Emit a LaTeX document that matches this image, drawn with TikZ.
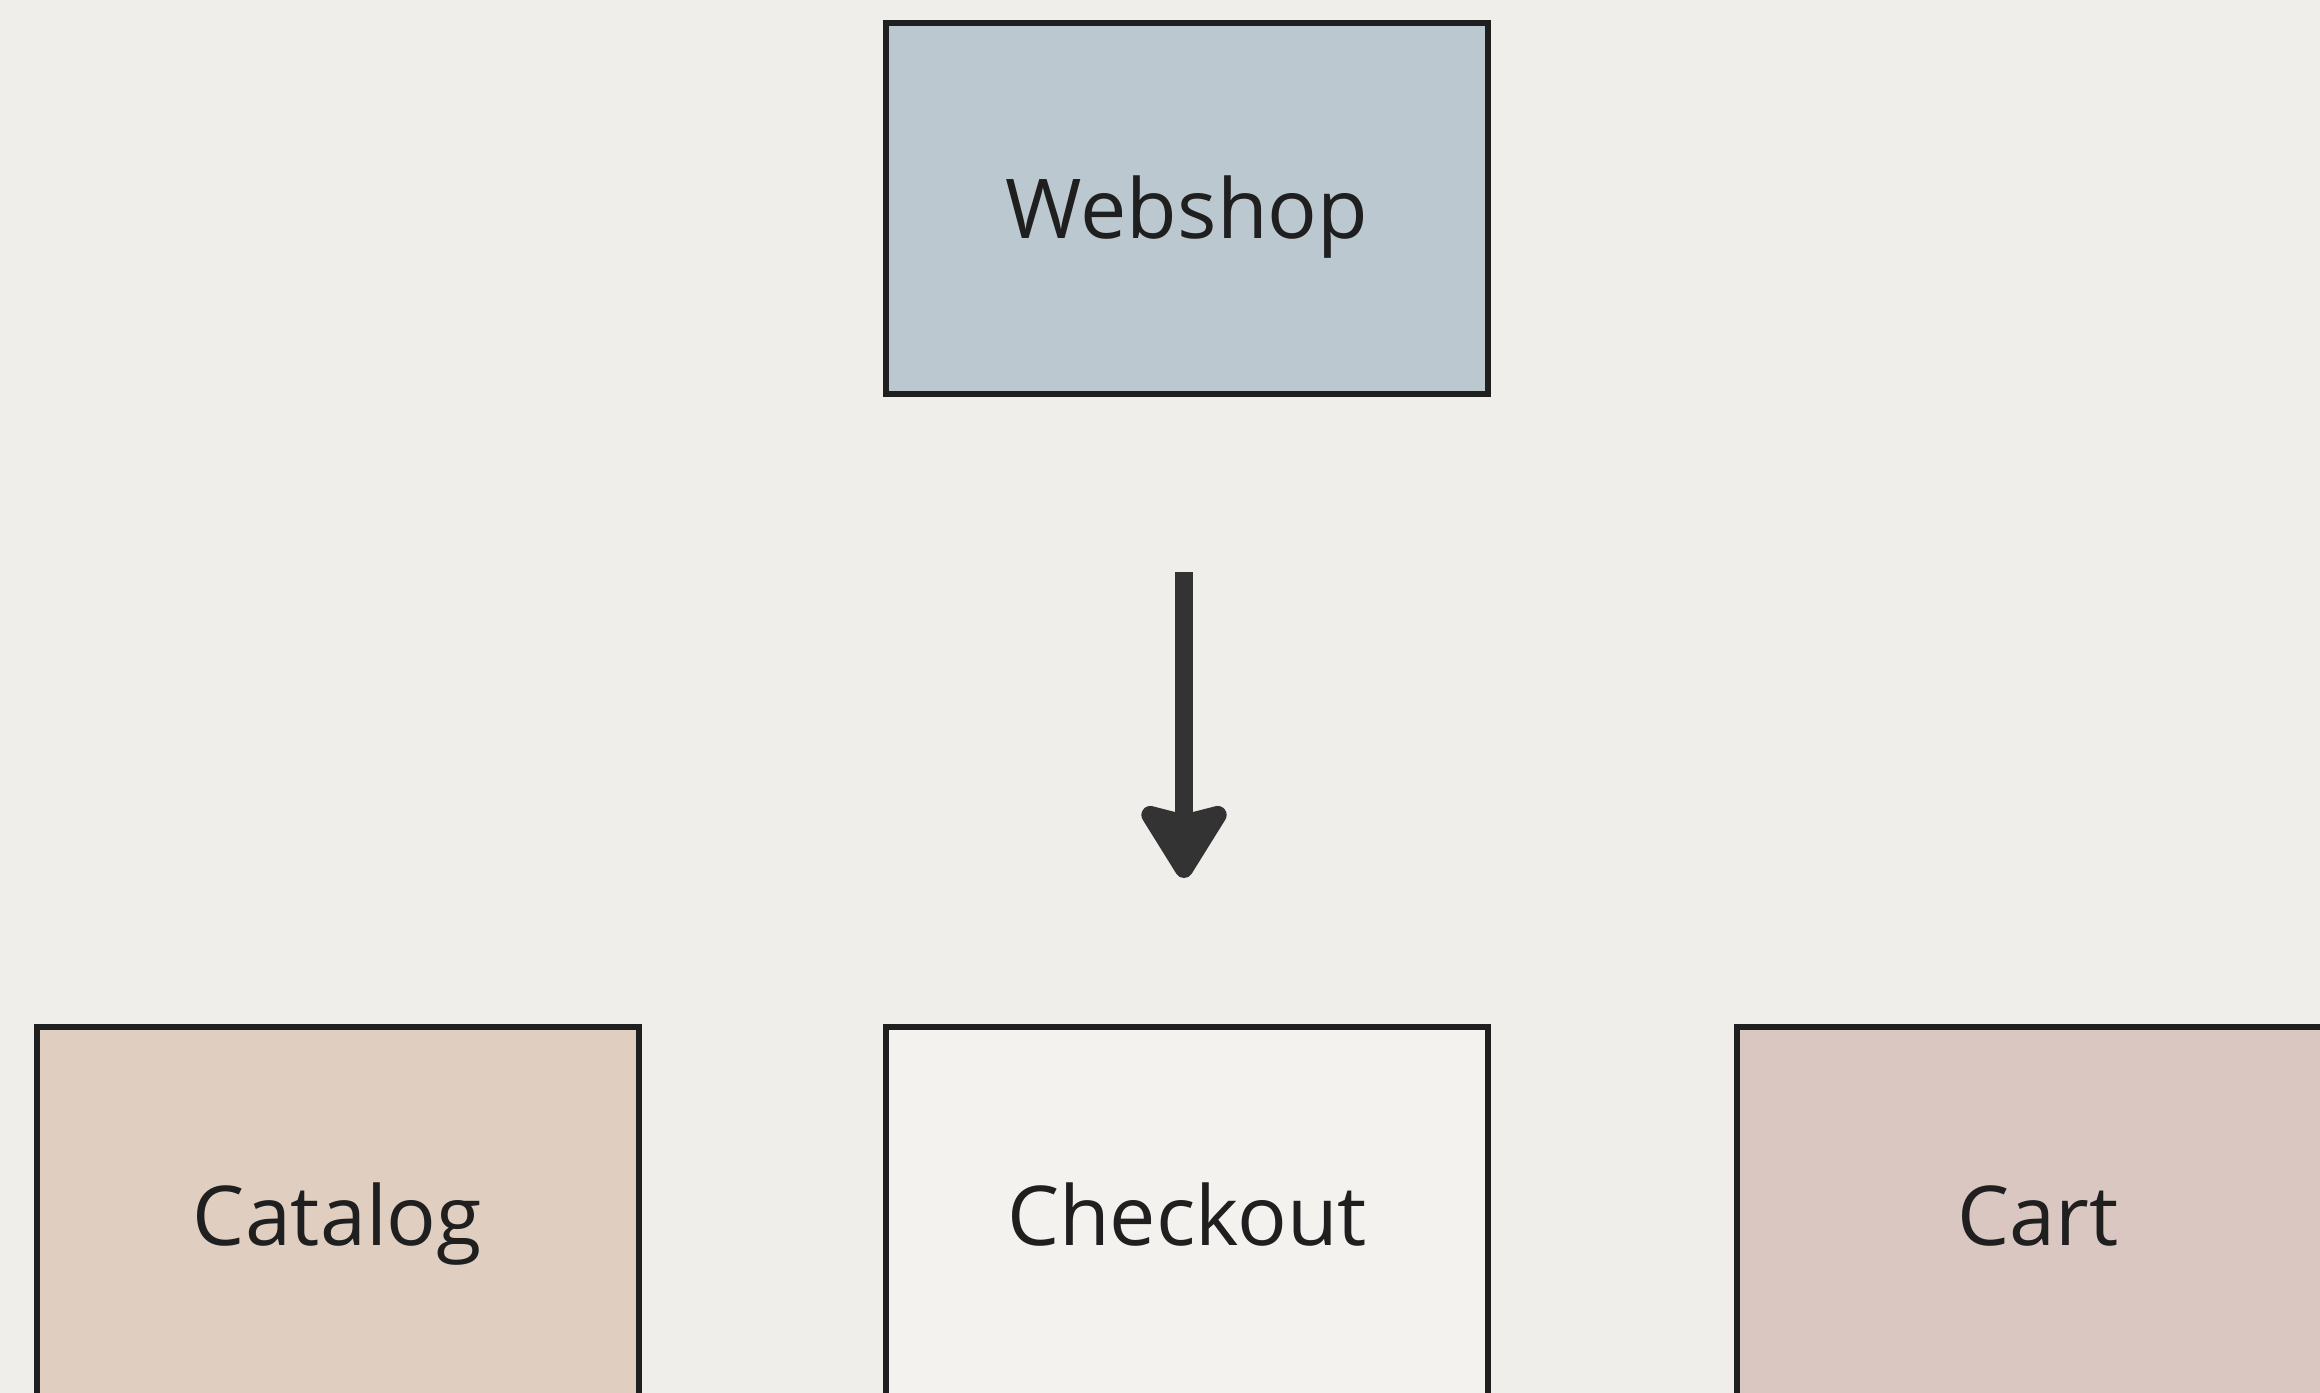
\documentclass[tikz,border=0pt]{standalone}
\usepackage{fontspec}
\setmainfont{Open Sans}
\usetikzlibrary{arrows.meta}

\definecolor{pagebg}{HTML}{EFEEEA}
\definecolor{edge}{HTML}{1F1F1F}
\definecolor{arrowink}{HTML}{333333}
\definecolor{webfill}{HTML}{BCC8D0}
\definecolor{catfill}{HTML}{E0CFC0}
\definecolor{chkfill}{HTML}{F3F2EE}
\definecolor{cartfill}{HTML}{DBC7C2}

\tikzset{
  module/.style={draw=edge, line width=3pt, rectangle,
    minimum width=301pt, minimum height=185.5pt, inner sep=0pt,
    font=\fontsize{41.3}{48}\selectfont, text=edge,
    text height=29.5pt, text depth=0pt},
  lowrow/.style={text height=32.5pt},
  flow/.style={draw=arrowink, line width=9pt,
    -{Stealth[length=42pt, width=51pt, inset=6pt, round]}}
}

\begin{document}
\begin{tikzpicture}[x=0.5pt, y=-0.5pt]
  \fill[pagebg] (0,0) rectangle (2320,1393);
  \useasboundingbox (0,0) rectangle (2320,1393);

  \node[module, fill=webfill]          (web)  at (1187,208.5)  {Webshop};
  \node[module, lowrow, fill=catfill]  (cat)  at (337.5,1212.5) {Catalog};
  \node[module, lowrow, fill=chkfill]  (chk)  at (1187,1212.5) {Checkout};
  \node[module, lowrow, fill=cartfill] (cart) at (2038,1212.5) {Cart};

  \draw[flow, shorten <=87.5pt, shorten >=73pt]
    ([xshift=-1.5pt]web.south) -- ([xshift=-1.5pt]chk.north);
\end{tikzpicture}
\end{document}
